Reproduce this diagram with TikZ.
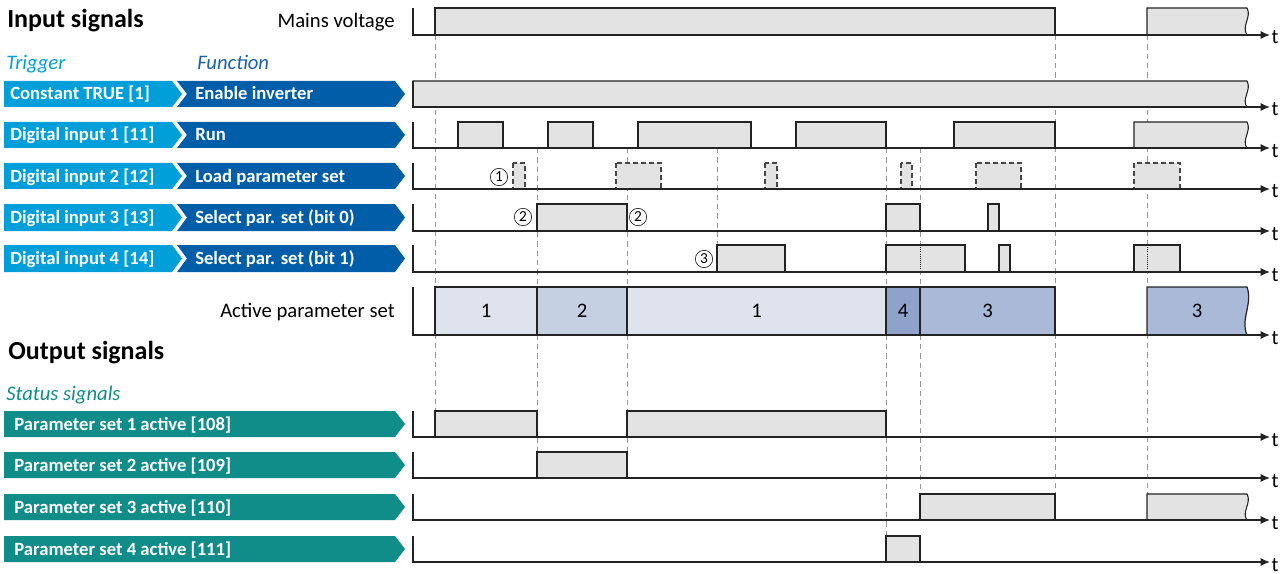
\documentclass[tikz,border=0pt]{standalone}
\usepackage{fontspec}
\setmainfont{Carlito}
\usetikzlibrary{arrows.meta}
\definecolor{trigazul}{RGB}{0,159,218}
\definecolor{funcazul}{RGB}{0,94,168}
\definecolor{functxt}{RGB}{24,98,170}
\definecolor{estado}{RGB}{16,140,137}
\definecolor{linea}{RGB}{35,35,35}
\definecolor{lineadash}{RGB}{70,70,70}
\definecolor{relleno}{RGB}{226,227,226}
\definecolor{guiagris}{RGB}{150,150,150}
\definecolor{juego1}{RGB}{222,227,238}
\definecolor{juego2}{RGB}{197,208,227}
\definecolor{juego3}{RGB}{171,185,216}
\definecolor{juego4}{RGB}{143,162,202}
\begin{document}
\begin{tikzpicture}[x=0.75pt, y=-0.75pt, >={Latex[length=7pt,width=6pt]},
  pulso/.style={draw=linea, fill=relleno, line width=0.8pt},
  pulsodash/.style={draw=lineadash, fill=relleno, line width=0.8pt, dash pattern=on 3.5pt off 2.5pt},
  juego/.style={draw=linea, line width=0.9pt},
  guia/.style={draw=guiagris, line width=0.6pt, dash pattern=on 4pt off 3pt},
  eje/.style={->, draw=linea, line width=0.9pt},
  etiq/.style={font=\fontsize{15.5}{18}\selectfont, inner sep=0pt},
  titulo/.style={font=\fontsize{19.5}{22}\selectfont\bfseries, anchor=base west, inner sep=0pt},
  cabecera/.style={font=\fontsize{15.5}{18}\selectfont\itshape, anchor=base west, inner sep=0pt},
  flechatxt/.style={font=\fontsize{14}{16}\selectfont\bfseries, text=white, anchor=base west, inner sep=0pt},
  circulo/.style={circle, draw=linea, line width=0.5pt, minimum size=13pt, inner sep=0pt,
    font=\fontsize{11.5}{12}\selectfont}]
  \useasboundingbox (0,0) rectangle (1288,574);

  % Titulos
  \node[titulo] (entradas) at (7,28) {Input signals};
  \node[cabecera, text=trigazul] (trigger) at (6,70) {Trigger};
  \node[cabecera, text=functxt] (funcion) at (197,70) {Function};
  \node[titulo] (salidas) at (8,359) {Output signals};
  \node[cabecera, text=estado] (status) at (6,400) {Status signals};
  \node[etiq, anchor=base east] (red) at (395,28) {Mains voltage};
  \node[etiq, anchor=base east] (activo) at (395,317) {Active parameter set};

  % Flechas de entrada
  \foreach \nom/\ya/\yb/\trig/\func in {enable/81/107/{Constant TRUE [1]}/{Enable inverter},
      run/122/148/{Digital input 1 [11]}/{Run},
      load/163/189/{Digital input 2 [12]}/{Load parameter set},
      bit0/204/231/{Digital input 3 [13]}/{Select par. set (bit 0)},
      bit1/245/272/{Digital input 4 [14]}/{Select par. set (bit 1)}} {
    \fill[trigazul] (4,\ya) -- (172,\ya) -- (182,{(\ya+\yb)/2}) -- (172,\yb) -- (4,\yb) -- cycle;
    \fill[funcazul] (177,\ya) -- (395,\ya) -- (405,{(\ya+\yb)/2}) -- (395,\yb)
      -- (177,\yb) -- (187,{(\ya+\yb)/2}) -- cycle;
    \node[flechatxt] (trig-\nom) at (10,{(\ya+\yb)/2+6}) {\trig};
    \node[flechatxt] (func-\nom) at (195,{(\ya+\yb)/2+6}) {\func};
  }

  % Flechas de salida
  \foreach \nom/\ya/\yb/\txt in {ps1/411/437/{Parameter set 1 active [108]},
      ps2/452/478/{Parameter set 2 active [109]},
      ps3/494/520/{Parameter set 3 active [110]},
      ps4/536/562/{Parameter set 4 active [111]}} {
    \fill[estado] (4,\ya) -- (395,\ya) -- (405,{(\ya+\yb)/2}) -- (395,\yb) -- (4,\yb) -- cycle;
    \node[flechatxt] (sal-\nom) at (14,{(\ya+\yb)/2+6}) {\txt};
  }

  % Lineas guia
  \foreach \x/\ya/\yb in {435/35/411, 537/148/452, 627/148/452, 717/148/245,
      886/148/536, 920/148/494, 1055/35/494, 1147/35/494}
    \draw[guia] (\x,\ya) -- (\x,\yb);

  % Tension de red y habilitacion
  \draw[pulso] (435,8) rectangle (1055,35);
  \draw[pulso] (1147,35) -- (1147,8) -- (1247,8) .. controls (1252,17) and (1241,26) .. (1247,35) -- cycle;
  \draw[pulso] (413,107) -- (413,81) -- (1247,81) .. controls (1252,90) and (1241,99) .. (1247,107) -- cycle;

  % Run
  \foreach \xa/\xb in {458/503, 548/593, 638/751, 796/886, 954/1055}
    \draw[pulso] (\xa,122) rectangle (\xb,148);
  \draw[pulso] (1134,148) -- (1134,122) -- (1247,122) .. controls (1252,131) and (1241,140) .. (1247,148) -- cycle;

  % Cargar juego de parametros
  \foreach \xa/\xb in {513/525, 616/661, 765/777, 901/912, 976/1021, 1134/1180}
    \draw[pulsodash] (\xa,163) rectangle (\xb,189);

  % Bit 0 y bit 1
  \foreach \xa/\xb in {537/627, 886/920, 988/999}
    \draw[pulso] (\xa,204) rectangle (\xb,231);
  \foreach \xa/\xb in {717/785, 886/965, 999/1010, 1134/1180}
    \draw[pulso] (\xa,245) rectangle (\xb,272);
  \draw[linea, line width=0.6pt, densely dotted] (920,245) -- (920,272);
  \draw[linea, line width=0.6pt, densely dotted] (1147,245) -- (1147,272);

  % Juego de parametros activo
  \foreach \xa/\xb/\col/\n in {435/537/juego1/1, 537/627/juego2/2, 627/886/juego1/1,
      886/920/juego4/4, 920/1055/juego3/3} {
    \draw[juego, fill=\col] (\xa,287) rectangle (\xb,335);
    \node[etiq, anchor=base] (js-\xa) at ({(\xa+\xb)/2},317) {\n};
  }
  \draw[juego, fill=juego3] (1147,335) -- (1147,287) -- (1247,287)
    .. controls (1253,304) and (1240,320) .. (1247,335) -- cycle;
  \node[etiq, anchor=base] (js-1147) at (1197,317) {3};

  % Salidas de estado
  \foreach \xa/\xb/\ya/\yb in {435/537/411/437, 627/886/411/437, 537/627/452/478,
      920/1055/494/520, 886/920/536/562}
    \draw[pulso] (\xa,\ya) rectangle (\xb,\yb);
  \draw[pulso] (1147,520) -- (1147,494) -- (1247,494) .. controls (1252,503) and (1241,512) .. (1247,520) -- cycle;

  % Ejes de tiempo
  \foreach \nom/\ya/\yb in {mains/8/35, enable/81/107, run/122/148, load/163/189,
      bit0/204/231, bit1/245/272, activo/287/335, ps1/411/437, ps2/452/478,
      ps3/494/520, ps4/536/562} {
    \draw[eje] (413,\ya) |- (1270,\yb);
    \node[etiq, anchor=base] (t-\nom) at (1275,\yb+9) {t};
  }

  % Notas numeradas
  \node[circulo] (n1) at (499,177) {1};
  \node[circulo] (n2a) at (523,217) {2};
  \node[circulo] (n2b) at (638,217) {2};
  \node[circulo] (n3) at (704,259) {3};
\end{tikzpicture}
\end{document}
